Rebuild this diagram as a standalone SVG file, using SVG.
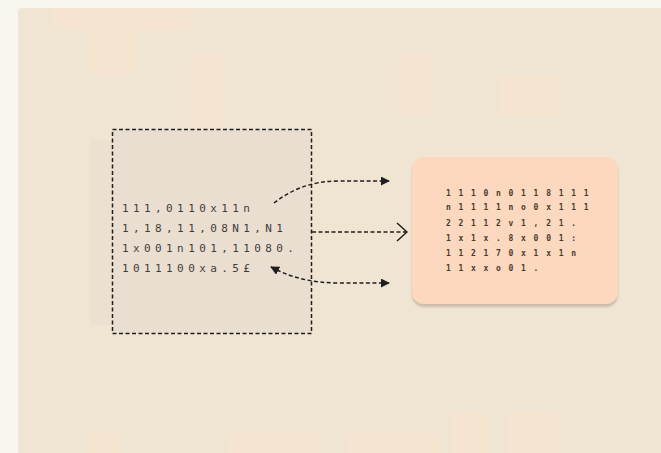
<svg xmlns="http://www.w3.org/2000/svg" width="661" height="453" viewBox="0 0 661 453">
<defs>
<style>
.lt{font-family:"DejaVu Sans Mono","Liberation Mono",monospace;font-size:11px;fill:#403d3a;letter-spacing:4.4px}
.rt{font-family:"DejaVu Sans Mono","Liberation Mono",monospace;font-size:8px;font-weight:bold;fill:#4a3b2c;letter-spacing:7.7px}
.dash{fill:none;stroke:#1f1f1f;stroke-width:1.5;stroke-dasharray:4 2.5}
.blk{fill:#f4e4d0}
</style>
<marker id="tri" viewBox="0 0 10 10" refX="9" refY="5" markerWidth="9" markerHeight="9" markerUnits="userSpaceOnUse" orient="auto-start-reverse">
<path d="M0,0 L10,5 L0,10 z" fill="#1f1f1f"/>
</marker>
<marker id="chev" viewBox="0 0 12 20" refX="11" refY="10" markerWidth="12" markerHeight="20" markerUnits="userSpaceOnUse" orient="auto">
<path d="M1,1 L11,10 L1,19" fill="none" stroke="#1f1f1f" stroke-width="1.5"/>
</marker>
<filter id="sh" x="-10%" y="-10%" width="120%" height="125%">
<feDropShadow dx="0" dy="3" stdDeviation="1" flood-color="#a89580" flood-opacity="0.5"/>
</filter>
</defs>
<rect width="661" height="453" fill="#f8f5ee"/>
<path d="M22,8 H661 V453 H18 V12 Q18,8 22,8 z" fill="#f0e5d3"/>
<g id="texture">
<rect class="blk" x="52" y="8" width="138" height="22"/>
<rect class="blk" x="88" y="30" width="50" height="44"/>
<rect class="blk" x="191" y="54" width="35" height="86"/>
<rect class="blk" x="400" y="54" width="30" height="60"/>
<rect class="blk" x="500" y="76" width="60" height="40"/>
<rect class="blk" x="88" y="433" width="34" height="20"/>
<rect class="blk" x="228" y="433" width="90" height="20"/>
<rect class="blk" x="348" y="433" width="90" height="20"/>
<rect class="blk" x="452" y="413" width="34" height="40"/>
<rect class="blk" x="508" y="413" width="50" height="40"/>
</g>
<g id="source">
<rect x="90" y="140" width="30" height="185" fill="#ece0d1"/>
<rect x="112.5" y="129.5" width="199" height="204" fill="#eaded0"/>
<rect x="112.5" y="129.5" width="199" height="204" class="dash" stroke-dasharray="5 3"/>
<text class="lt" x="122" y="212">111,0110x11n</text>
<text class="lt" x="122" y="232">1,18,11,08N1,N1</text>
<text class="lt" x="122" y="252">1x001n101,11080.</text>
<text class="lt" x="122" y="272">1011100xa.5£</text>
</g>
<g id="target">
<rect x="412" y="157" width="206" height="147" rx="12" fill="#fbd8be" filter="url(#sh)"/>
<text class="rt" x="446" y="196">1110n0118111</text>
<text class="rt" x="446" y="210">n1111no0x111</text>
<text class="rt" x="446" y="226">22112v1,21.</text>
<text class="rt" x="446" y="241">1x1x.8x001:</text>
<text class="rt" x="446" y="256">112170x1x1n</text>
<text class="rt" x="446" y="271">11xxo01.</text>
</g>
<g id="connectors">
<path class="dash" d="M274,203 C292,189 312,181 340,181 L389,181" marker-end="url(#tri)"/>
<path class="dash" d="M312,232 L407,232" marker-end="url(#chev)"/>
<path class="dash" d="M271,267 C292,278 312,283 340,283 L389,283" marker-start="url(#tri)" marker-end="url(#tri)"/>
</g>
</svg>
